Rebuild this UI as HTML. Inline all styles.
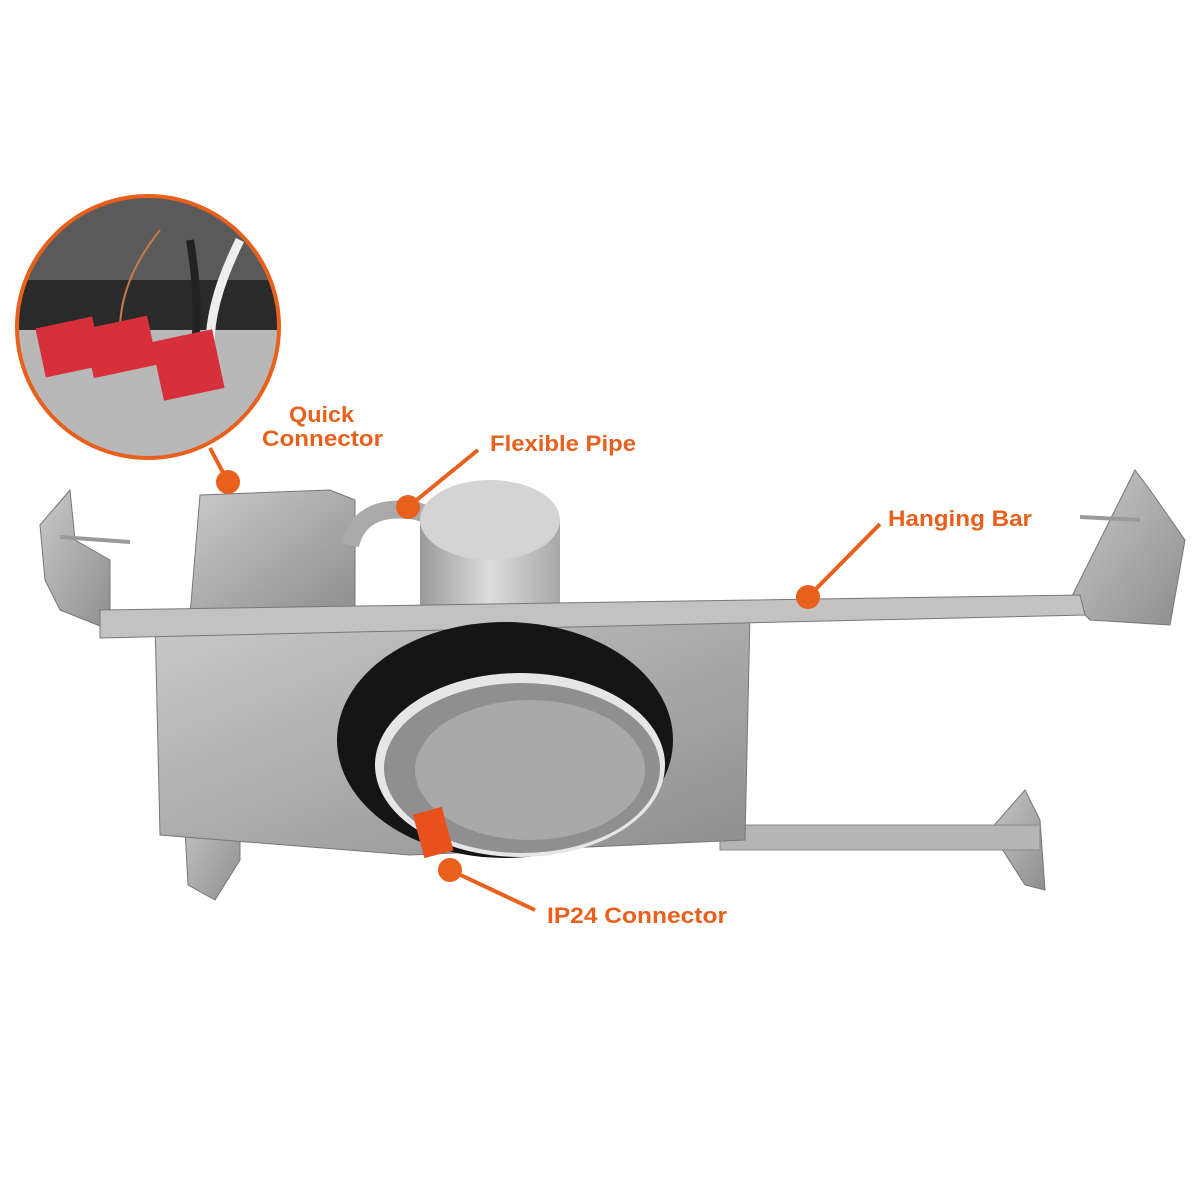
<!DOCTYPE html>
<html><head><style>
html,body{margin:0;padding:0;background:#fff;}
svg{display:block}
text{font-family:"Liberation Sans",sans-serif;font-weight:bold;fill:#e8601c;font-size:22px}
</style></head><body>
<svg width="1200" height="1200" viewBox="0 0 1200 1200">
<defs>
<linearGradient id="m" x1="0" y1="0" x2="1" y2="1"><stop offset="0" stop-color="#c9c9c9"/><stop offset="1" stop-color="#8e8e8e"/></linearGradient>
<linearGradient id="can" x1="0" x2="1"><stop offset="0" stop-color="#9a9a9a"/><stop offset=".5" stop-color="#dcdcdc"/><stop offset="1" stop-color="#a8a8a8"/></linearGradient>
<clipPath id="cc"><circle cx="148" cy="327" r="130"/></clipPath>
</defs>
<g clip-path="url(#cc)">
<rect x="0" y="190" width="300" height="280" fill="#8a8a8a"/>
<rect x="0" y="190" width="300" height="90" fill="#5a5a5a"/>
<rect x="10" y="280" width="270" height="50" fill="#2a2a2a"/>
<rect x="10" y="330" width="270" height="140" fill="#b8b8b8"/>
<path d="M190 240 Q200 300 195 345" stroke="#222" stroke-width="8" fill="none"/>
<path d="M240 240 Q210 300 210 345" stroke="#eee" stroke-width="9" fill="none"/>
<path d="M160 230 Q120 280 120 330" stroke="#c87a4a" stroke-width="2" fill="none"/>
<rect x="40" y="322" width="58" height="50" fill="#d8303a" transform="rotate(-12 69 347)"/>
<rect x="88" y="322" width="65" height="50" fill="#d8303a" transform="rotate(-12 120 347)"/>
<rect x="157" y="335" width="62" height="60" fill="#d8303a" transform="rotate(-12 188 365)"/>
</g>
<circle cx="148" cy="327" r="131" fill="none" stroke="#e8601c" stroke-width="4"/>
<path d="M40 525 L70 490 L75 540 L110 560 L110 630 L60 610 L45 580 Z" fill="url(#m)" stroke="#777"/>
<path d="M1070 600 L1135 470 L1150 490 L1185 540 L1170 625 L1090 620 Z" fill="url(#m)" stroke="#777"/>
<line x1="60" y1="537" x2="130" y2="542" stroke="#999" stroke-width="4"/>
<line x1="1080" y1="517" x2="1140" y2="520" stroke="#999" stroke-width="4"/>
<path d="M185 830 L210 795 L240 820 L240 860 L215 900 L188 885 Z" fill="url(#m)" stroke="#777"/>
<path d="M990 830 L1025 790 L1040 820 L1045 890 L1025 885 Z" fill="url(#m)" stroke="#777"/>
<rect x="720" y="825" width="320" height="25" fill="#b5b5b5" stroke="#888"/>
<path d="M200 495 L330 490 L355 500 L355 610 L190 615 Z" fill="url(#m)" stroke="#777"/>
<path d="M350 545 Q360 505 410 510 Q450 515 445 560" stroke="#aaa" stroke-width="18" fill="none"/>
<rect x="420" y="520" width="140" height="90" fill="url(#can)"/>
<ellipse cx="490" cy="520" rx="70" ry="40" fill="#d4d4d4"/>
<path d="M155 620 L750 615 L745 840 L410 855 L160 835 Z" fill="url(#m)" stroke="#777"/>
<path d="M100 610 L1080 595 L1085 615 L100 638 Z" fill="#c2c2c2" stroke="#777"/>
<ellipse cx="505" cy="740" rx="168" ry="118" fill="#151515"/>
<ellipse cx="520" cy="765" rx="145" ry="92" fill="#e6e6e6"/>
<ellipse cx="522" cy="768" rx="138" ry="85" fill="#8f8f8f"/>
<ellipse cx="530" cy="770" rx="115" ry="70" fill="#a9a9a9"/>
<rect x="418" y="810" width="30" height="45" fill="#e8501c" transform="rotate(-15 433 832)"/>
<g stroke="#e8601c" stroke-width="4" fill="none">
<line x1="210" y1="448" x2="228" y2="482"/>
<line x1="478" y1="450" x2="408" y2="507"/>
<line x1="880" y1="524" x2="808" y2="597"/>
<line x1="535" y1="910" x2="450" y2="870"/>
</g>
<g fill="#e8601c">
<circle cx="228" cy="482" r="12"/><circle cx="408" cy="507" r="12"/>
<circle cx="808" cy="597" r="12"/><circle cx="450" cy="870" r="12"/>
</g>
<text x="289" y="422" textLength="65" lengthAdjust="spacingAndGlyphs">Quick</text>
<text x="262" y="446" textLength="121" lengthAdjust="spacingAndGlyphs">Connector</text>
<text x="490" y="451" textLength="146" lengthAdjust="spacingAndGlyphs">Flexible Pipe</text>
<text x="888" y="526" textLength="144" lengthAdjust="spacingAndGlyphs">Hanging Bar</text>
<text x="547" y="923" textLength="180" lengthAdjust="spacingAndGlyphs">IP24 Connector</text>
</svg>
</body></html>
